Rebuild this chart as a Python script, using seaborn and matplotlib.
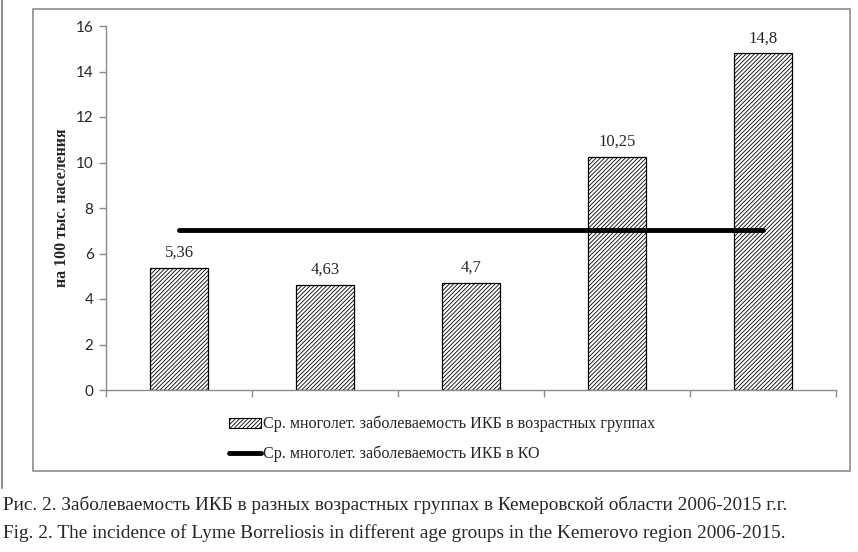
import numpy as np
import pandas as pd
import matplotlib
matplotlib.use("Agg")
import matplotlib.pyplot as plt
import seaborn as sns
from matplotlib.patches import Rectangle, Patch
from matplotlib.lines import Line2D

sns.set_theme(style="white")
plt.rcParams["font.family"] = ["Liberation Serif", "DejaVu Serif"]
plt.rcParams["hatch.linewidth"] = 0.6

# data
groups = ["гр. 1", "гр. 2", "гр. 3", "гр. 4", "гр. 5"]
group_rates = [5.36, 4.63, 4.7, 10.25, 14.8]
ko_rate = 7.03

bar_label = "Ср. многолет. заболеваемость ИКБ в возрастных группах"
line_label = "Ср. многолет. заболеваемость ИКБ в КО"
y_label = "на 100 тыс. населения"
caption_ru = "Рис. 2. Заболеваемость ИКБ в разных возрастных группах в Кемеровской области 2006-2015 г.г."
caption_en = "Fig. 2. The incidence of Lyme Borreliosis in different age groups in the Kemerovo region 2006-2015."

df = pd.DataFrame({"group": groups, "rate": group_rates})
df["ko"] = ko_rate

fig = plt.figure(figsize=(8.58, 5.52), dpi=100)
ax = fig.add_axes([106 / 858, 1 - 390 / 552, 730 / 858, 364 / 552])

sns.barplot(data=df, x="group", y="rate", ax=ax, width=0.4,
            color="white", edgecolor="black", linewidth=0.9,
            hatch="////////", saturation=1)
ax.plot(np.arange(len(groups)), df["ko"], color="black", lw=3.5,
        solid_capstyle="round")

labels = [str(v).replace(".", ",") for v in group_rates]
ax.bar_label(ax.containers[0], labels=labels, padding=5, fontsize=12)

ax.set_ylim(0, 16)
ax.set_yticks(range(0, 17, 2))
ax.set_yticklabels([str(t) for t in range(0, 17, 2)], family="Lato", fontsize=11)
ax.set_xlim(-0.5, len(groups) - 0.5)
ax.set_xticks(np.arange(-0.5, len(groups), 1.0))
ax.set_xticklabels([])
ax.set_xlabel("")
ax.set_ylabel(y_label, fontsize=11.4, fontweight="bold", labelpad=4)

for s in ["top", "right"]:
    ax.spines[s].set_visible(False)
for s in ["left", "bottom"]:
    ax.spines[s].set_color("#8c8c8c")
    ax.spines[s].set_linewidth(1)
ax.tick_params(axis="both", which="both", direction="out", length=5,
               width=1, color="#8c8c8c", left=True, bottom=True, pad=4)

# outer box
fig.patches.append(Rectangle((33 / 858, 1 - 471 / 552), 817 / 858, 462 / 552,
                             transform=fig.transFigure, fill=False,
                             edgecolor="#8c8c8c", linewidth=1.2))
fig.add_artist(Line2D([2 / 858, 2 / 858], [1 - 488 / 552, 1], transform=fig.transFigure,
                      color="#8c8c8c", lw=1.5))

handles = [Patch(facecolor="white", edgecolor="black", hatch="////////", linewidth=0.8),
           Line2D([0], [0], color="black", lw=3.5, solid_capstyle="round")]
fig.legend(handles, [bar_label, line_label], loc="upper left",
           bbox_to_anchor=(229 / 858, 1 - 416 / 552), frameon=False,
           fontsize=11.6, handlelength=2.0, handleheight=0.6, handletextpad=0.1,
           labelspacing=0.82, borderpad=0, borderaxespad=0)

fig.text(3 / 858, 1 - 505 / 552, caption_ru, fontsize=13.9, va="center", ha="left")
fig.text(3 / 858, 1 - 533 / 552, caption_en, fontsize=13.9, va="center", ha="left")

fig.savefig("out.png", dpi=100)
